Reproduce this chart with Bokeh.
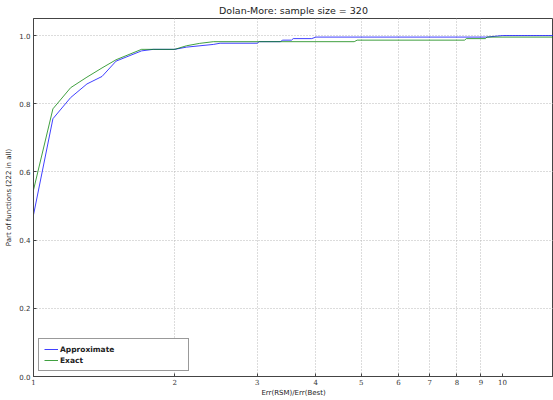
from bokeh.plotting import figure
from bokeh.models import FixedTicker, Range1d, Legend, LegendItem
from bokeh.embed import file_html
from bokeh.resources import INLINE

# Data
approx_x = [1.0, 1.1, 1.2, 1.3, 1.4, 1.5, 1.7, 1.8, 2.0, 2.12, 2.42, 2.5, 3.0, 3.03,
            3.36, 3.40, 3.55, 3.58, 3.92, 4.0, 9.27, 10.0, 12.85]
approx_y = [0.474, 0.756, 0.818, 0.858, 0.880, 0.925, 0.955, 0.9595, 0.9595, 0.966, 0.974,
            0.9775, 0.9775, 0.982, 0.982, 0.9865, 0.9865, 0.991, 0.991, 0.9955, 0.9955, 1.0, 1.0]

exact_x = [1.0, 1.1, 1.2, 1.3, 1.4, 1.5, 1.7, 2.0, 2.12, 2.26, 2.42, 4.83, 4.9,
           8.3, 8.38, 9.2, 9.27, 12.85]
exact_y = [0.547, 0.785, 0.847, 0.878, 0.905, 0.929, 0.9595, 0.9595, 0.970, 0.977, 0.982,
           0.982, 0.9865, 0.9865, 0.991, 0.991, 0.9955, 0.9955]

x_ticks = [1, 2, 3, 4, 5, 6, 7, 8, 9, 10]
x_grid = [2, 3, 4, 5, 6, 7, 8, 9]
y_ticks = [0.0, 0.2, 0.4, 0.6, 0.8, 1.0]

X_MIN, X_MAX = 1, 12.85
Y_MIN, Y_MAX = 0, 1.05

p = figure(width=553, height=400, x_axis_type="log",
           x_range=Range1d(X_MIN, X_MAX), y_range=Range1d(Y_MIN, Y_MAX),
           output_backend="svg", toolbar_location=None,
           title="Dolan-More: sample size = 320",
           min_border_left=33, min_border_right=0, min_border_top=0, min_border_bottom=24)

p.title.align = "center"
p.title.text_font = "DejaVu Sans"
p.title.text_font_size = "9.5px"
p.title.text_font_style = "normal"
p.title.text_color = "#222222"
p.title.offset = 0
p.title.standoff = 5

p.outline_line_color = "#444444"
p.outline_line_width = 1
p.background_fill_color = "white"
p.border_fill_color = "white"

# x axis
xa = p.xaxis[0]
xa.ticker = FixedTicker(ticks=x_ticks, minor_ticks=[])
xa.major_label_overrides = {t: str(t) for t in x_ticks}
xa.major_label_text_font = "DejaVu Serif"
xa.major_label_text_font_size = "7px"
xa.major_label_text_color = "#333333"
xa.major_label_standoff = 2
xa.major_tick_in = 3
xa.major_tick_out = 0
xa.minor_tick_in = 0
xa.minor_tick_out = 0
xa.axis_line_color = "#444444"
xa.major_tick_line_color = "#444444"
xa.axis_label = "Err(RSM)/Err(Best)"
xa.axis_label_text_font = "DejaVu Sans"
xa.axis_label_text_font_size = "7px"
xa.axis_label_text_font_style = "normal"
xa.axis_label_text_color = "#222222"
xa.axis_label_standoff = 1

# y axis
ya = p.yaxis[0]
ya.ticker = FixedTicker(ticks=y_ticks, minor_ticks=[])
ya.major_label_overrides = {t: f"{t:.1f}" for t in y_ticks}
ya.major_label_text_font = "DejaVu Sans"
ya.major_label_text_font_size = "7px"
ya.major_label_text_color = "#333333"
ya.major_label_standoff = 3
ya.major_tick_in = 3
ya.major_tick_out = 0
ya.minor_tick_in = 0
ya.minor_tick_out = 0
ya.axis_line_color = "#444444"
ya.major_tick_line_color = "#444444"
ya.axis_label = "Part of functions (222 in all)"
ya.axis_label_text_font = "DejaVu Sans"
ya.axis_label_text_font_size = "7px"
ya.axis_label_text_font_style = "normal"
ya.axis_label_text_color = "#222222"
ya.axis_label_standoff = 3

# grids
p.xgrid[0].ticker = FixedTicker(ticks=x_grid)
p.xgrid[0].grid_line_color = "#b8b8b8"
p.xgrid[0].grid_line_dash = "1 2"
p.xgrid[0].grid_line_width = 1
p.ygrid[0].ticker = FixedTicker(ticks=[0.2, 0.4, 0.6, 0.8, 1.0])
p.ygrid[0].grid_line_color = "#b8b8b8"
p.ygrid[0].grid_line_dash = "1 2"
p.ygrid[0].grid_line_width = 1

r1 = p.line(approx_x, approx_y, line_color="#0000ff", line_width=1, line_alpha=0.75)
r2 = p.line(exact_x, exact_y, line_color="#008000", line_width=1, line_alpha=0.75)

legend = Legend(items=[LegendItem(label="Approximate", renderers=[r1]),
                       LegendItem(label="Exact", renderers=[r2])],
                location="bottom_left")
legend.margin = 5
legend.padding = 5
legend.spacing = 1
legend.glyph_width = 14
legend.glyph_height = 10
legend.label_standoff = 2
legend.label_width = 123
legend.label_height = 10
legend.label_text_font = "DejaVu Sans"
legend.label_text_font_size = "7.5px"
legend.label_text_font_style = "bold"
legend.label_text_color = "#222222"
legend.border_line_color = "#333333"
legend.border_line_width = 1
legend.background_fill_alpha = 1
p.add_layout(legend)

open("out.html", "w").write(file_html(p, INLINE))
